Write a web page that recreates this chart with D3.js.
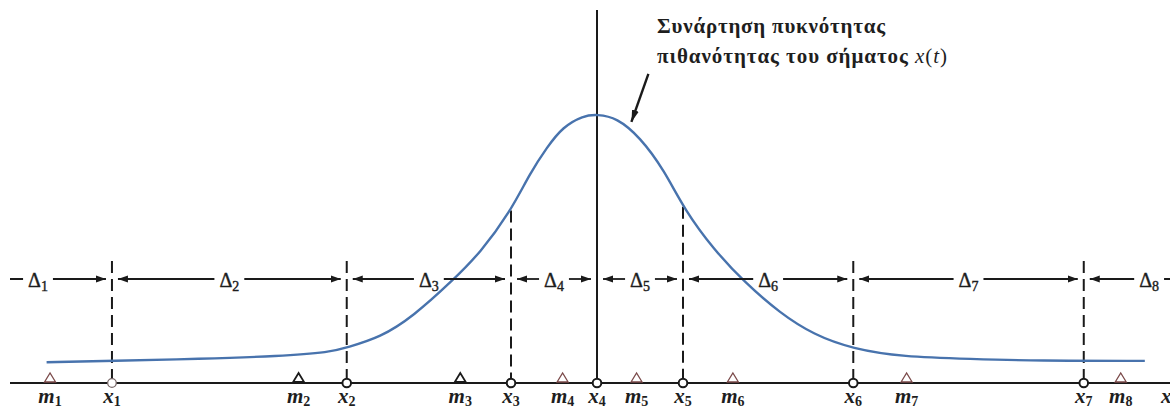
<!DOCTYPE html>
<html>
<head>
<meta charset="utf-8">
<script src="https://cdn.jsdelivr.net/npm/d3@7"></script>
<style>
  html, body { margin: 0; background: #fff; }
  svg { display: block; }
  text { font-family: "Liberation Serif", "DejaVu Serif", serif; fill: #1e1e1e; }
</style>
</head>
<body>
<svg id="chart" width="1170" height="410"></svg>
<script>
// Decision boundaries x_k of the quantiser (signal units, x4 = 0)
const boundaryNames  = ["x1", "x2", "x3", "x4", "x5", "x6", "x7"];
const boundaryValues = [-5.64, -2.91, -1.00, 0.00, 1.00, 2.98, 5.66];

// Representation levels m_k
const levelNames  = ["m1", "m2", "m3", "m4", "m5", "m6", "m7", "m8"];
const levelValues = [-6.36, -3.47, -1.59, -0.40, 0.46, 1.58, 3.60, 6.09];

// Quantisation intervals Δ_k; the two outer ones run past the drawing
const intervalNames = ["Δ1", "Δ2", "Δ3", "Δ4", "Δ5", "Δ6", "Δ7", "Δ8"];
const outerLimits   = [-7.36, 7.18];

// Probability density of the signal x(t)
const densityX = [-6.40, -5.64, -4.62, -3.69, -3.10, -2.91, -2.52, -2.14, -1.67, -1.36, -1.01, -0.78, -0.58, -0.40, -0.16, 0.00,
                  0.23, 0.50, 0.78, 1.02, 1.36, 1.71, 2.13, 2.52, 2.97, 3.56, 4.34, 5.12, 6.37];
const densityY = [0.031, 0.033, 0.036, 0.040, 0.046, 0.053, 0.068, 0.099, 0.154, 0.194, 0.255, 0.313, 0.352, 0.382, 0.399, 0.401,
                  0.396, 0.367, 0.318, 0.258, 0.199, 0.151, 0.104, 0.072, 0.051, 0.039, 0.036, 0.033, 0.033];

// Annotation text
const titleLine1 = "Συνάρτηση πυκνότητας";
const titleLine2 = "πιθανότητας του σήματος ";
const titleSignal = ["x", "(", "t", ")"];
const annotationAt = 0.40;

const svg = d3.select("#chart");
const W = 1170, H = 410;
const ink = "#1a1a1a";
const curveBlue = "#4873ad";

const x = d3.scaleLinear().domain([-1, 1]).range([511, 683]);
const y = d3.scaleLinear().domain([0, 0.4]).range([383, 115]);

const axisY = y(0);
const arrowRowY = 279;
const guideTop = 261;

const density = densityX.map((d, i) => ({ u: d, v: densityY[i] }));
const densityAt = u => {
  const i = d3.bisectLeft(densityX, u);
  if (i <= 0) return densityY[0];
  if (i >= densityX.length) return densityY[densityY.length - 1];
  const t = (u - densityX[i - 1]) / (densityX[i] - densityX[i - 1]);
  return densityY[i - 1] + t * (densityY[i] - densityY[i - 1]);
};

// clip everything to the drawing frame
const defs = svg.append("defs");
defs.append("clipPath").attr("id", "frame")
  .append("rect").attr("x", 10).attr("y", 0).attr("width", W - 10).attr("height", H);

defs.append("marker")
  .attr("id", "head").attr("viewBox", "0 -4 10 8")
  .attr("refX", 10).attr("refY", 0)
  .attr("markerUnits", "userSpaceOnUse")
  .attr("markerWidth", 10).attr("markerHeight", 8)
  .attr("orient", "auto-start-reverse")
  .append("path").attr("d", "M0,-3.5L10,0L0,3.5Z").attr("fill", ink);
defs.append("marker")
  .attr("id", "bighead").attr("viewBox", "0 -5 12 10")
  .attr("refX", 12).attr("refY", 0)
  .attr("markerUnits", "userSpaceOnUse")
  .attr("markerWidth", 12).attr("markerHeight", 10)
  .attr("orient", "auto")
  .append("path").attr("d", "M0,-3.5L12,0L0,3.5Z").attr("fill", ink);

const g = svg.append("g").attr("clip-path", "url(#frame)");

// vertical guides at the decision boundaries
g.selectAll("line.guide")
  .data(boundaryValues)
  .join("line")
  .attr("class", "guide")
  .attr("x1", d => x(d)).attr("x2", d => x(d))
  .attr("y1", (d, i) => boundaryNames[i] === "x4" ? 10 : Math.min(guideTop, y(densityAt(d))))
  .attr("y2", axisY)
  .attr("stroke", ink)
  .attr("stroke-width", 2)
  .attr("stroke-dasharray", (d, i) => boundaryNames[i] === "x4" ? null : "12,6");

// density curve
g.append("path")
  .datum(density)
  .attr("d", d3.line().x(d => x(d.u)).y(d => y(d.v)).curve(d3.curveBasis))
  .attr("fill", "none")
  .attr("stroke", curveBlue)
  .attr("stroke-width", 2.4);

// horizontal signal axis
g.append("line")
  .attr("x1", 10).attr("x2", W)
  .attr("y1", axisY).attr("y2", axisY)
  .attr("stroke", ink).attr("stroke-width", 2);

// interval arrows Δk
const bounds = [outerLimits[0], ...boundaryValues, outerLimits[1]];
const arrowGap = 6, labelGap = 5;
intervalNames.forEach((name, i) => {
  const pa = x(bounds[i]), pb = x(bounds[i + 1]);
  const mid = (pa + pb) / 2;
  const label = g.append("text")
    .attr("x", mid).attr("y", arrowRowY + 8)
    .attr("text-anchor", "middle")
    .style("font-size", "20px")
    .style("stroke", ink).style("stroke-width", 0.4);
  label.append("tspan").text(name[0]);
  label.append("tspan").attr("dy", 4).style("font-size", "14px").text(name.slice(1));
  const half = label.node().getComputedTextLength() / 2;
  g.append("line")
    .attr("x1", mid - half - labelGap).attr("x2", pa + arrowGap)
    .attr("y1", arrowRowY).attr("y2", arrowRowY)
    .attr("stroke", ink).attr("stroke-width", 1.8)
    .attr("marker-end", "url(#head)");
  g.append("line")
    .attr("x1", mid + half + labelGap).attr("x2", pb - arrowGap)
    .attr("y1", arrowRowY).attr("y2", arrowRowY)
    .attr("stroke", ink).attr("stroke-width", 1.8)
    .attr("marker-end", "url(#head)");
});

// representation levels: small triangles on the axis
const darkLevels = new Set(["m2", "m3"]);
g.selectAll("path.level")
  .data(levelValues)
  .join("path")
  .attr("class", "level")
  .attr("transform", d => `translate(${x(d)},${axisY - 1})`)
  .attr("d", "M-5.5,0L5.5,0L0,-9Z")
  .attr("fill", "#fff")
  .attr("stroke", (d, i) => darkLevels.has(levelNames[i]) ? ink : "#7b4a4a")
  .attr("stroke-width", (d, i) => darkLevels.has(levelNames[i]) ? 1.8 : 1.3);

// decision boundaries: open circles on the axis
g.selectAll("circle.boundary")
  .data(boundaryValues)
  .join("circle")
  .attr("class", "boundary")
  .attr("cx", d => x(d)).attr("cy", axisY)
  .attr("r", 4.3)
  .attr("fill", "#fff")
  .attr("stroke", (d, i) => i === 0 ? "#7a6a6a" : ink)
  .attr("stroke-width", (d, i) => i === 0 ? 1.3 : 2);

// axis labels
function subLabel(sel, name, px) {
  const t = sel.append("text")
    .attr("x", px).attr("y", 403)
    .attr("text-anchor", "middle")
    .style("font-size", "21px").style("font-style", "italic").style("font-weight", "bold");
  t.append("tspan").text(name[0]);
  t.append("tspan").attr("dy", 3).style("font-size", "14px").style("font-style", "normal").text(name.slice(1));
}
levelValues.forEach((d, i) => subLabel(g, levelNames[i], x(d)));
boundaryValues.forEach((d, i) => subLabel(g, boundaryNames[i], x(d)));
g.append("text")
  .attr("x", 1161).attr("y", 403)
  .style("font-size", "21px").style("font-style", "italic").style("font-weight", "bold")
  .text("x");

// annotation of the density curve
const tipX = x(annotationAt), tipY = y(densityAt(annotationAt)) - 8;
g.append("line")
  .attr("x1", tipX + 17).attr("y1", tipY - 48)
  .attr("x2", tipX).attr("y2", tipY)
  .attr("stroke", ink).attr("stroke-width", 2.4)
  .attr("marker-end", "url(#bighead)");

const ann = g.append("g").style("font-size", "21px").style("font-weight", "bold");
ann.append("text").attr("x", 657).attr("y", 33)
  .attr("textLength", 228).attr("lengthAdjust", "spacing")
  .text(titleLine1);
const l2 = ann.append("text").attr("x", 657).attr("y", 63)
  .attr("textLength", 290).attr("lengthAdjust", "spacing");
l2.append("tspan").text(titleLine2);
l2.append("tspan").style("font-style", "italic").style("font-weight", "normal").text(titleSignal[0]);
l2.append("tspan").style("font-weight", "normal").text(titleSignal[1]);
l2.append("tspan").style("font-style", "italic").style("font-weight", "normal").text(titleSignal[2]);
l2.append("tspan").style("font-weight", "normal").text(titleSignal[3]);
</script>
</body>
</html>
